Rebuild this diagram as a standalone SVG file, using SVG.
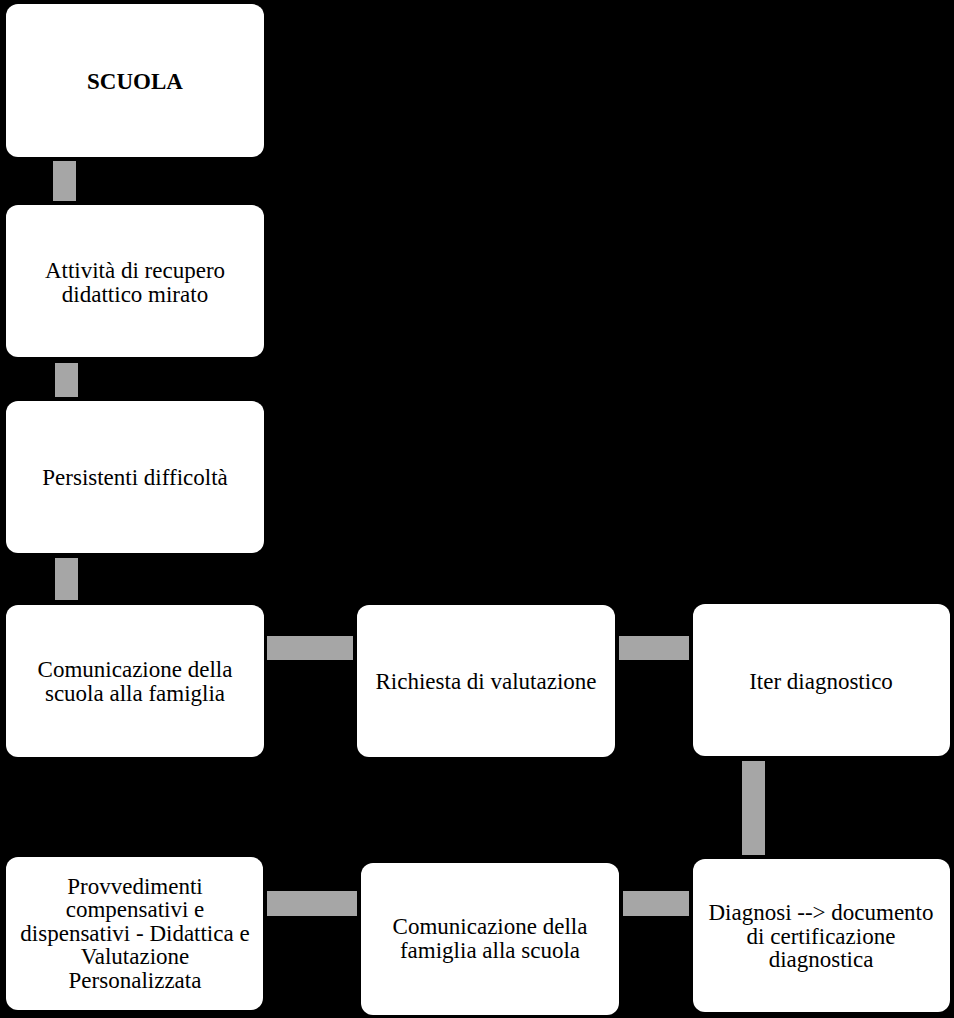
<svg xmlns="http://www.w3.org/2000/svg" width="954" height="1018" viewBox="0 0 954 1018">
<style>
.box{fill:#fff}
.conn{fill:#a6a6a6}
text{font-family:'Liberation Serif','Times New Roman','DejaVu Serif',serif;font-size:23px;fill:#000;text-anchor:middle}
.b{font-weight:bold}
</style>
<rect width="954" height="1018" fill="#000"/>
<g id="connectors">
<rect class="conn" x="53" y="161" width="23" height="40"/>
<rect class="conn" x="55" y="363" width="23" height="34"/>
<rect class="conn" x="55" y="558" width="23" height="42"/>
<rect class="conn" x="267" y="636" width="86" height="24"/>
<rect class="conn" x="619" y="636" width="70" height="24"/>
<rect class="conn" x="742" y="761" width="23" height="94"/>
<rect class="conn" x="623" y="891" width="66" height="25"/>
<rect class="conn" x="267" y="891" width="90" height="25"/>
</g>
<g font-family="Liberation Serif, Times New Roman, serif">
<g id="n1"><rect class="box" x="6" y="4" width="258" height="153" rx="12"/><text class="b" x="135" y="89">SCUOLA</text></g>
<g id="n2"><rect class="box" x="6" y="205" width="258" height="152" rx="12"/><text x="135" y="278">Attività di recupero</text><text x="135" y="302">didattico mirato</text></g>
<g id="n3"><rect class="box" x="6" y="401" width="258" height="152" rx="12"/><text x="135" y="485">Persistenti difficoltà</text></g>
<g id="n4"><rect class="box" x="6" y="605" width="258" height="152" rx="12"/><text x="135" y="677">Comunicazione della</text><text x="135" y="701">scuola alla famiglia</text></g>
<g id="n5"><rect class="box" x="357" y="605" width="258" height="152" rx="12"/><text x="486" y="689">Richiesta di valutazione</text></g>
<g id="n6"><rect class="box" x="693" y="604" width="257" height="152" rx="12"/><text x="821" y="689">Iter diagnostico</text></g>
<g id="n7"><rect class="box" x="693" y="859" width="257" height="153" rx="12"/><text x="821" y="920">Diagnosi --&gt; documento</text><text x="821" y="944">di certificazione</text><text x="821" y="967">diagnostica</text></g>
<g id="n8"><rect class="box" x="361" y="863" width="258" height="152" rx="12"/><text x="490" y="934">Comunicazione della</text><text x="490" y="958">famiglia alla scuola</text></g>
<g id="n9"><rect class="box" x="6" y="857" width="257" height="153" rx="12"/><text x="135" y="894">Provvedimenti</text><text x="135" y="917">compensativi e</text><text x="135" y="941">dispensativi - Didattica e</text><text x="135" y="964">Valutazione</text><text x="135" y="988">Personalizzata</text></g>
</g>
</svg>
